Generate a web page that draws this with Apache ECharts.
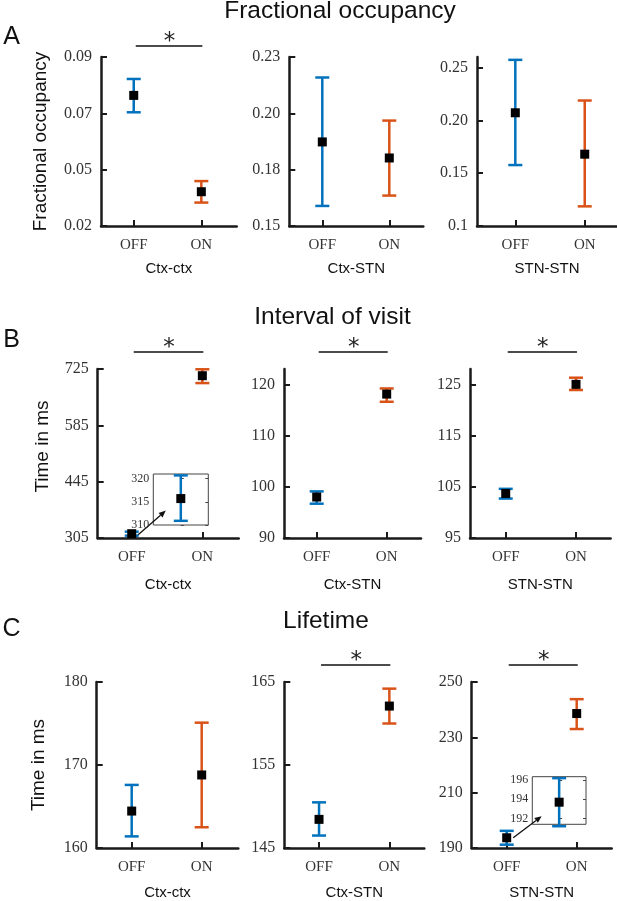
<!DOCTYPE html>
<html>
<head>
<meta charset="utf-8">
<script src="https://cdn.jsdelivr.net/npm/echarts@6/dist/echarts.min.js"></script>
<style>html,body{margin:0;padding:0;background:#fff}#c{width:617px;height:901px}</style>
</head>
<body>
<div id="c"></div>
<script>
// ---------- data ----------
const pairs = ['Ctx-ctx', 'Ctx-STN', 'STN-STN'];
const conditions = ['OFF', 'ON'];
const rowTitles = ['Fractional occupancy', 'Interval of visit', 'Lifetime'];
const rowLetters = ['A', 'B', 'C'];
const rowYNames = ['Fractional occupancy', 'Time in ms', 'Time in ms'];

// Fractional occupancy [pair][OFF, ON]
const foMean = [[0.0741, 0.0342], [0.1898, 0.1822], [0.2072, 0.1680]];
const foLow  = [[0.0671, 0.0297], [0.1595, 0.1644], [0.1577, 0.1186]];
const foHigh = [[0.0809, 0.0386], [0.2203, 0.1999], [0.2573, 0.2188]];
// Interval of visit (ms)
const ivMean = [[315.7, 708.3], [98.0, 118.1], [103.7, 125.0]];
const ivLow  = [[310.9, 690.0], [96.7, 116.6], [102.7, 123.9]];
const ivHigh = [[320.7, 724.3], [99.1, 119.2], [104.6, 126.3]];
// Lifetime (ms)
const ltMean = [[164.45, 168.8], [148.45, 162.1], [193.7, 238.6]];
const ltLow  = [[161.4, 162.5], [146.5, 160.0], [191.2, 233.0]];
const ltHigh = [[167.6, 175.1], [150.5, 164.2], [196.2, 243.8]];

// y axis ranges [pair] = [min, max]
const foRange = [[0.02, 0.09], [0.15, 0.23], [0.10, 0.26]];
const ivRange = [[305, 725], [90, 123], [95, 128]];
const ltRange = [[160, 180], [145, 165], [190, 250]];
// tick values and labels
const foTicks = [[0.02, 0.02 + 0.07 / 3, 0.02 + 0.14 / 3, 0.09], [0.15, 0.15 + 0.08 / 3, 0.15 + 0.16 / 3, 0.23], [0.10, 0.15, 0.20, 0.25]];
const foTickLabels = [['0.02', '0.05', '0.07', '0.09'], ['0.15', '0.18', '0.20', '0.23'], ['0.1', '0.15', '0.20', '0.25']];
const ivTicks = [[305, 445, 585, 725], [90, 100, 110, 120], [95, 105, 115, 125]];
const ivTickLabels = [['305', '445', '585', '725'], ['90', '100', '110', '120'], ['95', '105', '115', '125']];
const ltTicks = [[160, 170, 180], [145, 155, 165], [190, 210, 230, 250]];
const ltTickLabels = [['160', '170', '180'], ['145', '155', '165'], ['190', '210', '230', '250']];

// significance (* between OFF and ON)
const significant = [[true, false, false], [true, true, true], [false, true, true]];

// insets: zoomed OFF value
const insetB = { range: [310, 321], ticks: [310, 315, 320], labels: ['310', '315', '320'] };
const insetC = { range: [191.4, 196.35], ticks: [192, 194, 196], labels: ['192', '194', '196'] };

// ---------- layout / style ----------
const condColors = ['#0072BD', '#D95319'];
const SANS = '"Liberation Sans", Arial, sans-serif';
const SERIF = '"Liberation Serif", "Times New Roman", serif';
const rowTop = [57, 369, 682];
const gridH = 169;
const panelLayout = [
  [{ l: 101, w: 135.7, x: [-0.484, 1.523] }, { l: 289.3, w: 134, x: [-0.4925, 1.5075] }, { l: 477, w: 140, x: [-0.552, 1.465] }],
  [{ l: 97.7, w: 141, x: [-0.482, 1.515] }, { l: 284, w: 137, x: [-0.467, 1.49] }, { l: 470, w: 140.6, x: [-0.508, 1.492] }],
  [{ l: 96.7, w: 141.6, x: [-0.5, 1.523] }, { l: 284.3, w: 140, x: [-0.494, 1.497] }, { l: 471.7, w: 140, x: [-0.5, 1.5] }]
];
const yNameGap = [51, 45, 48];
const xNameGap = [35, 39, 37];
const sigGap = [11, 17, 17];

const metrics = [
  { mean: foMean, low: foLow, high: foHigh, range: foRange, ticks: foTicks, labels: foTickLabels },
  { mean: ivMean, low: ivLow, high: ivHigh, range: ivRange, ticks: ivTicks, labels: ivTickLabels },
  { mean: ltMean, low: ltLow, high: ltHigh, range: ltRange, ticks: ltTicks, labels: ltTickLabels }
];

function labelFor(ticks, labels) {
  return function (v) {
    let bi = 0, bd = Infinity;
    ticks.forEach((t, i) => { const d = Math.abs(t - v); if (d < bd) { bd = d; bi = i; } });
    return labels[bi];
  };
}

function errRender(params, api) {
  const x = api.value(0), lo = api.value(1), hi = api.value(2);
  const top = api.coord([x, hi]), bot = api.coord([x, lo]);
  const color = condColors[Math.round(x)];
  const w = 7;
  const style = { stroke: color, lineWidth: 2.5 };
  return {
    type: 'group', children: [
      { type: 'line', shape: { x1: top[0], y1: top[1], x2: bot[0], y2: bot[1] }, style: style },
      { type: 'line', shape: { x1: top[0] - w, y1: top[1], x2: top[0] + w, y2: top[1] }, style: style },
      { type: 'line', shape: { x1: bot[0] - w, y1: bot[1], x2: bot[0] + w, y2: bot[1] }, style: style }
    ]
  };
}

function sigRenderFactory(gap) {
  return function (params, api) {
    const cs = params.coordSys;
    const a = api.coord([api.value(0), api.value(2)]);
    const b = api.coord([api.value(1), api.value(2)]);
    const ly = cs.y - gap;
    return {
      type: 'group', children: [
        { type: 'line', shape: { x1: a[0] + 2, y1: ly, x2: b[0] + 1, y2: ly }, style: { stroke: '#111', lineWidth: 1.3 } },
        { type: 'text', style: { text: '*', x: (a[0] + b[0]) / 2 + 2, y: ly - 4, textAlign: 'center', textVerticalAlign: 'middle', font: '23px "DejaVu Sans"', fill: '#222' } }
      ]
    };
  };
}

const grid = [], xAxis = [], yAxis = [], series = [];
const axisLineStyle = { color: '#1a1a1a', width: 2.5 };

for (let r = 0; r < 3; r++) {
  const m = metrics[r];
  for (let c = 0; c < 3; c++) {
    const g = r * 3 + c;
    const L = panelLayout[r][c];
    grid.push({ left: L.l, top: rowTop[r], width: L.w, height: gridH });
    xAxis.push({
      gridIndex: g, type: 'value', min: L.x[0], max: L.x[1],
      axisLine: { show: true, onZero: false, lineStyle: axisLineStyle },
      axisTick: { show: true, inside: true, length: 6, customValues: [0, 1], lineStyle: { color: '#1a1a1a', width: 2 } },
      axisLabel: { customValues: [0, 1], formatter: v => conditions[Math.round(v)], fontFamily: SERIF, fontSize: 15, color: '#333', margin: 12 },
      splitLine: { show: false },
      name: pairs[c], nameLocation: 'middle', nameGap: xNameGap[r],
      nameTextStyle: { fontFamily: SANS, fontSize: 15, color: '#111' }
    });
    yAxis.push({
      gridIndex: g, type: 'value', min: m.range[c][0], max: m.range[c][1],
      axisLine: { show: true, onZero: false, lineStyle: axisLineStyle },
      axisTick: { show: true, inside: true, length: 6, customValues: m.ticks[c], lineStyle: { color: '#1a1a1a', width: 2 } },
      axisLabel: { customValues: m.ticks[c], formatter: labelFor(m.ticks[c], m.labels[c]), fontFamily: SERIF, fontSize: 16, color: '#333', margin: 9 },
      splitLine: { show: false },
      name: c === 0 ? rowYNames[r] : '', nameLocation: 'middle', nameGap: yNameGap[r],
      nameTextStyle: { fontFamily: SANS, fontSize: 19, color: '#111', padding: r === 1 ? [0, 0, 0, 14] : 0 }
    });
    series.push({
      type: 'custom', xAxisIndex: g, yAxisIndex: g, renderItem: errRender,
      encode: { x: 0, y: [1, 2] },
      data: [0, 1].map(k => [k, m.low[c][k], m.high[c][k]]), z: 2
    });
    series.push({
      type: 'scatter', xAxisIndex: g, yAxisIndex: g, symbol: 'rect', symbolSize: 9,
      itemStyle: { color: '#000', opacity: 1 }, data: [0, 1].map(k => [k, m.mean[c][k]]), z: 3, silent: true
    });
    if (significant[r][c]) {
      series.push({
        type: 'custom', xAxisIndex: g, yAxisIndex: g, renderItem: sigRenderFactory(sigGap[r]),
        data: [[0, 1, m.range[c][1]]], z: 4, silent: true
      });
    }
  }
}

// insets
const insets = [
  { g: 9, row: 1, pair: 0, box: { l: 153.3, t: 474, w: 55, h: 51 }, cfg: insetB },
  { g: 10, row: 2, pair: 2, box: { l: 532.3, t: 776.7, w: 53.7, h: 47.6 }, cfg: insetC }
];
insets.forEach((ins, i) => {
  const m = metrics[ins.row];
  grid.push({ left: ins.box.l, top: ins.box.t, width: ins.box.w, height: ins.box.h, show: true, borderColor: '#444', borderWidth: 1, backgroundColor: 'rgba(0,0,0,0)' });
  xAxis.push({ gridIndex: ins.g, type: 'value', min: -0.5, max: 0.5, show: false });
  yAxis.push({
    gridIndex: ins.g, type: 'value', min: ins.cfg.range[0], max: ins.cfg.range[1],
    axisLine: { show: false },
    axisTick: { show: true, inside: true, length: 3, customValues: ins.cfg.ticks, lineStyle: { color: '#444', width: 1 } },
    axisLabel: { customValues: ins.cfg.ticks, formatter: labelFor(ins.cfg.ticks, ins.cfg.labels), fontFamily: SERIF, fontSize: 12, color: '#333', margin: 4 },
    splitLine: { show: false }
  });
  series.push({
    type: 'custom', xAxisIndex: 9 + i, yAxisIndex: 9 + i, renderItem: errRender, encode: { x: 0, y: [1, 2] },
    data: [[0, m.low[ins.pair][0], m.high[ins.pair][0]]], z: 5
  });
  series.push({
    type: 'scatter', xAxisIndex: 9 + i, yAxisIndex: 9 + i, symbol: 'rect', symbolSize: 9,
    itemStyle: { color: '#000', opacity: 1 }, data: [[0, m.mean[ins.pair][0]]], z: 6, silent: true
  });
});
// right-side ticks for inset boxes
insets.forEach((ins, i) => {
  yAxis.push({
    gridIndex: ins.g, type: 'value', position: 'right', min: ins.cfg.range[0], max: ins.cfg.range[1],
    axisLine: { show: false }, axisLabel: { show: false }, splitLine: { show: false },
    axisTick: { show: true, inside: true, length: 3, customValues: ins.cfg.ticks, lineStyle: { color: '#444', width: 1 } }
  });
});

const titleY = [11, 317.5, 621];
const titleX = [340, 332.5, 326];
const letterY = [37.5, 340, 629];
const graphic = [];
for (let r = 0; r < 3; r++) {
  graphic.push({ id: 't' + r, type: 'text', x: titleX[r], y: titleY[r], style: { text: rowTitles[r], textAlign: 'center', textVerticalAlign: 'middle', font: '24.5px ' + SANS, fill: '#111' } });
  graphic.push({ id: 'l' + r, type: 'text', x: 11.5, y: letterY[r], style: { text: rowLetters[r], textAlign: 'center', textVerticalAlign: 'middle', font: '25px ' + SANS, fill: '#111' } });
}

const chart = echarts.init(document.getElementById('c'), null, { renderer: 'canvas' });
chart.setOption({ animation: false, backgroundColor: '#fff', grid, xAxis, yAxis, series, graphic });

// arrows from main OFF point to inset
function arrow(id, s, e) {
  const dx = e[0] - s[0], dy = e[1] - s[1];
  const len = Math.hypot(dx, dy), ux = dx / len, uy = dy / len;
  const hl = 7, hw = 3;
  const bx = e[0] - ux * hl, by = e[1] - uy * hl;
  return [
    { id: id + 'l', type: 'line', shape: { x1: s[0], y1: s[1], x2: bx, y2: by }, style: { stroke: '#111', lineWidth: 1.3 } },
    { id: id + 'h', type: 'polygon', shape: { points: [[e[0], e[1]], [bx - uy * hw, by + ux * hw], [bx + uy * hw, by - ux * hw]] }, style: { fill: '#111' } }
  ];
}
const aB0 = chart.convertToPixel({ gridIndex: 3 }, [0, ivMean[0][0]]);
const aB1 = chart.convertToPixel({ gridIndex: 9 }, [0, ivMean[0][0]]);
const aC0 = chart.convertToPixel({ gridIndex: 8 }, [0, ltMean[2][0]]);
const aC1 = chart.convertToPixel({ gridIndex: 10 }, [0, ltMean[2][0]]);
chart.setOption({
  graphic: [].concat(
    arrow('ab', [aB0[0] + 3, aB0[1] + 4], [aB1[0] - 15, aB1[1] + 12]),
    arrow('ac', [aC0[0] + 6.5, aC0[1]], [aC1[0] - 17.5, aC1[1] + 14])
  )
});
</script>
</body>
</html>
